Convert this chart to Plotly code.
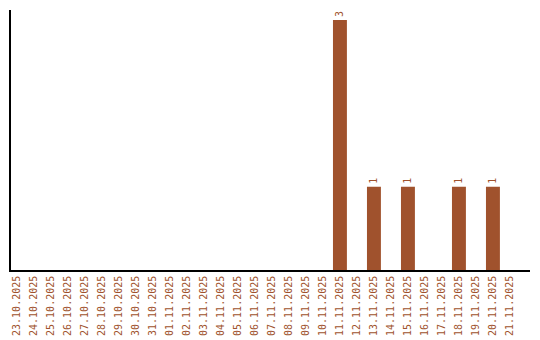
import plotly.graph_objects as go

dates = ["23.10.2025","24.10.2025","25.10.2025","26.10.2025","27.10.2025","28.10.2025",
         "29.10.2025","30.10.2025","31.10.2025","01.11.2025","02.11.2025","03.11.2025",
         "04.11.2025","05.11.2025","06.11.2025","07.11.2025","08.11.2025","09.11.2025",
         "10.11.2025","11.11.2025","12.11.2025","13.11.2025","14.11.2025","15.11.2025",
         "16.11.2025","17.11.2025","18.11.2025","19.11.2025","20.11.2025","21.11.2025"]
counts = [0,0,0,0,0,0,0,0,0,0,0,0,0,0,0,0,0,0,0,3,0,1,0,1,0,0,1,0,1,0]

color = "#A0522D"
labels = [str(v) if v > 0 else "" for v in counts]

fig = go.Figure(go.Bar(
    x=dates, y=counts, marker=dict(color=color, line=dict(width=0)),
    text=labels, textposition="outside", textangle=-90,
    textfont=dict(family="DejaVu Sans Mono", size=10, color=color),
    cliponaxis=False, hoverinfo="skip",
))
fig.update_layout(
    width=540, height=340, margin=dict(l=11, r=10, t=10, b=70, autoexpand=False),
    paper_bgcolor="white", plot_bgcolor="white", showlegend=False, bargap=0.18,
    uniformtext=dict(minsize=10, mode="show"),
)
fig.update_xaxes(type="category", range=[-0.35, 30.18], showline=True, linecolor="black",
                 linewidth=1.5, ticks="", tickangle=-90, showgrid=False, automargin=False,
                 tickfont=dict(family="DejaVu Sans Mono", size=10, color=color))
fig.update_yaxes(range=[0, 3.12], showline=True, linecolor="black", linewidth=1.5,
                 showticklabels=False, ticks="", showgrid=False, zeroline=False,
                 automargin=False)
fig.write_html("out.html")
